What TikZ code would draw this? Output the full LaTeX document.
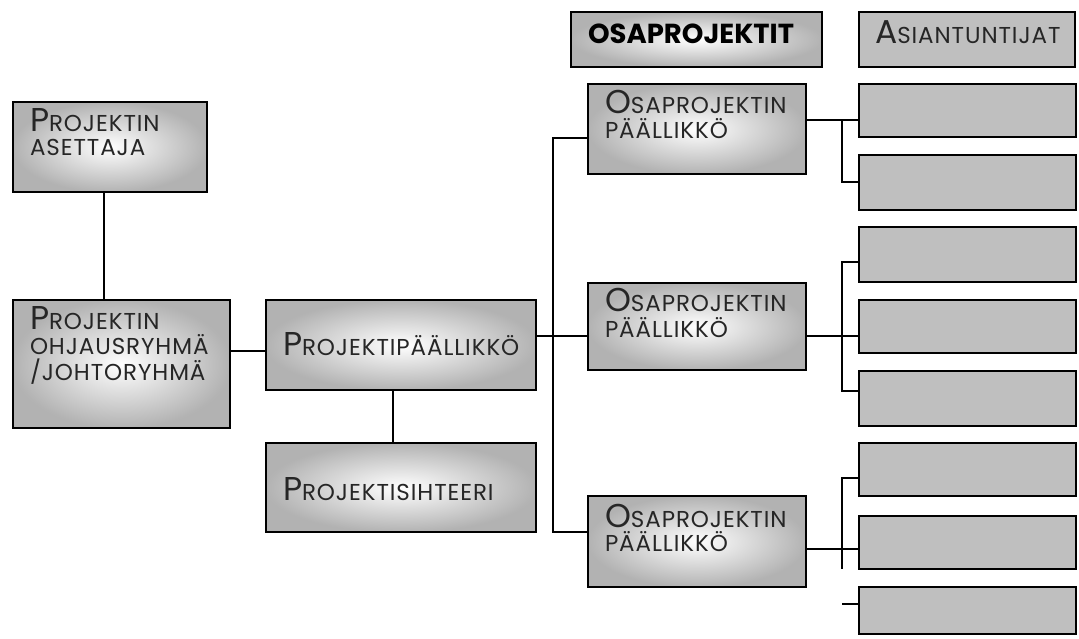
\documentclass[tikz,border=0pt]{standalone}
\usepackage{fontspec}
\setmainfont{Poppins}
\usetikzlibrary{shadows}

% small capitals: a full-size first letter followed by smaller capitals
\newcommand\capsz{\fontsize{33}{36}\selectfont}
\newcommand\smsz{\fontsize{23}{36}\selectfont}
\newcommand\Sc[2]{{\addfontfeature{LetterSpace=4}{\capsz #1}{\smsz #2}}}

\tikzset{
  orgbox/.style={draw=black, line width=1.4pt, inner sep=0pt, outer sep=0pt,
    anchor=north west,
    drop shadow={shadow xshift=1pt, shadow yshift=-1.2pt, opacity=0.55, fill=black!70}},
  glowbox/.style={orgbox, inner color=white, outer color=black!30},
  flatbox/.style={orgbox, fill=black!25},
  lbl/.style={anchor=base west, inner sep=0pt, outer sep=0pt, text=black!85},
  conn/.style={line width=1.2pt, black}
}

\newcommand\boxat[6]{% style, name, x1, y1, x2, y2
  \node[#1, minimum width={(#5-#3)*1pt}, minimum height={(#6-#4)*1pt}] (#2) at (#3,#4) {};}

\begin{document}
\begin{tikzpicture}[x=1pt, y=-1pt]
\useasboundingbox (0,0) rectangle (1079,638);

% ---- left column ----
\boxat{glowbox}{aset}{13}{102}{207}{192}
\boxat{glowbox}{ohj}{13}{300}{230}{428}
\node[lbl] (aset1) at (30,131) {\Sc{P}{ROJEKTIN}};
\node[lbl] (aset2) at (30,155) {\Sc{}{ASETTAJA}};
\node[lbl] (ohj1) at (30,329) {\Sc{P}{ROJEKTIN}};
\node[lbl] (ohj2) at (30,354) {\Sc{}{OHJAUSRYHMÄ}};
\node[lbl] (ohj3) at (30,380) {\Sc{}{/JOHTORYHMÄ}};

% ---- project manager and secretary ----
\boxat{glowbox}{pp}{266}{300}{536}{390}
\boxat{glowbox}{sih}{266}{443}{536}{532}
\node[lbl] (ppt) at (283,355) {\Sc{P}{ROJEKTIPÄÄLLIKKÖ}};
\node[lbl] (siht) at (283,500) {\Sc{P}{ROJEKTISIHTEERI}};

% ---- column headers ----
\boxat{glowbox}{hosa}{571}{12}{822}{67}
\boxat{flatbox}{hasi}{859}{12}{1075}{67}
\node[lbl, text=black] (hosat) at (588,43) {\fontsize{27.5}{30}\selectfont\bfseries OSAPROJEKTIT};
\node[lbl] (hasit) at (875,43) {\Sc{A}{SIANTUNTIJAT}};

% ---- sub-project managers ----
\boxat{glowbox}{osa1}{588}{84}{806}{174}
\boxat{glowbox}{osa2}{588}{283}{806}{370}
\boxat{glowbox}{osa3}{588}{496}{806}{587}
\node[lbl] (osa1a) at (605,113) {\Sc{O}{SAPROJEKTIN}};
\node[lbl] (osa1b) at (605,138) {\Sc{}{PÄÄLLIKKÖ}};
\node[lbl] (osa2a) at (605,311) {\Sc{O}{SAPROJEKTIN}};
\node[lbl] (osa2b) at (605,337) {\Sc{}{PÄÄLLIKKÖ}};
\node[lbl] (osa3a) at (605,527) {\Sc{O}{SAPROJEKTIN}};
\node[lbl] (osa3b) at (605,551) {\Sc{}{PÄÄLLIKKÖ}};

% ---- experts (empty) ----
\boxat{flatbox}{e1}{859}{84}{1076}{137}
\boxat{flatbox}{e2}{859}{155}{1076}{210}
\boxat{flatbox}{e3}{859}{227}{1076}{282}
\boxat{flatbox}{e4}{859}{300}{1076}{353}
\boxat{flatbox}{e5}{859}{371}{1076}{426}
\boxat{flatbox}{e6}{859}{443}{1076}{496}
\boxat{flatbox}{e7}{859}{516}{1076}{569}
\boxat{flatbox}{e8}{859}{587}{1076}{634}

% ---- connectors ----
\coordinate (busT) at (553,138);
\coordinate (busB) at (553,532);
\coordinate (b1) at (842,120);
\coordinate (b2T) at (842,262);
\coordinate (b2B) at (842,391);
\coordinate (b3T) at (842,478);
\coordinate (b3B) at (842,569);
\coordinate (stub) at (842,604);

\draw[conn] (aset.south -| 104,0) -- (ohj.north -| 104,0);
\draw[conn] (ohj.east |- 0,351) -- (pp.west |- 0,351);
\draw[conn] (pp.south -| 393,0) -- (sih.north -| 393,0);

% main bus to the sub-projects
\draw[conn] (osa1.west |- busT) -- (busT) -- (busB) -- (osa3.west |- busB);
\draw[conn] (pp.east |- 0,336) -- (osa2.west |- 0,336);

% first sub-project
\draw[conn] (osa1.east |- b1) -- (e1.west |- b1);
\draw[conn] (b1) -- (842,182) -- (e2.west |- 0,182);
% second sub-project
\draw[conn] (e3.west |- b2T) -- (b2T) -- (b2B) -- (e5.west |- b2B);
\draw[conn] (osa2.east |- 0,336) -- (e4.west |- 0,336);
% third sub-project
\draw[conn] (e6.west |- b3T) -- (b3T) -- (b3B);
\draw[conn] (osa3.east |- 0,549) -- (e7.west |- 0,549);
\draw[conn] (stub) -- (e8.west |- stub);
\end{tikzpicture}
\end{document}
